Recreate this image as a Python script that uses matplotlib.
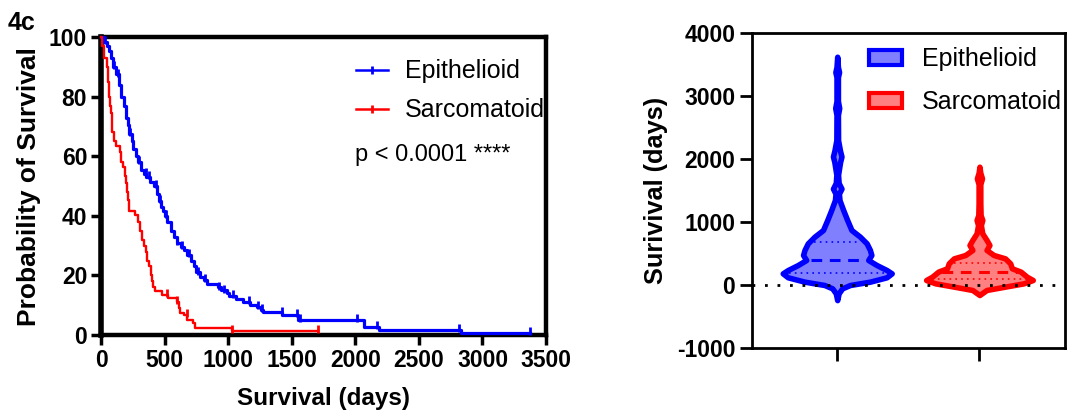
import numpy as np
import matplotlib
matplotlib.use("Agg")
import matplotlib.pyplot as plt
from matplotlib.lines import Line2D
from matplotlib.patches import Patch

plt.rcParams['font.family'] = ['Liberation Sans', 'DejaVu Sans']
plt.rcParams['axes.unicode_minus'] = False

# Kaplan-Meier steps (days, % surviving after the step)
epi_times = [0, 20, 45, 62, 80, 98, 118, 140, 160, 178, 194, 210, 222, 240, 255,
             272, 290, 315, 340, 357, 385, 413, 441, 455, 469, 485, 503, 520, 548,
             570, 596, 625, 652, 680, 708, 730, 750, 780, 806, 834, 918, 947, 989,
             1003, 1059, 1115, 1171, 1228, 1256, 1270, 1424, 1550, 2070, 2183, 2829]
epi_surv = [100, 98.5, 97, 95.5, 93, 90, 87.5, 84, 80, 77, 73, 70.5, 67.5, 65, 62.5,
            60, 58, 55.5, 54, 53, 51.5, 50, 47.5, 45, 43, 41.5, 40, 38, 35,
            33, 31, 29.5, 28.5, 27, 25, 23, 21, 19.5, 18.5, 17, 16, 15, 14,
            13, 12, 11, 10, 9.5, 8.5, 7.6, 6.7, 5, 2.6, 1.7, 0.8]
epi_end = 3376
epi_censor = [30, 100, 130, 230, 300, 350, 380, 430, 460, 510, 600, 640, 690, 760,
              819, 930, 968, 1040, 1166, 1236, 1268, 1423, 1540, 1567, 2013, 2173,
              2819, 3376]

sar_times = [0, 10, 25, 48, 55, 62, 72, 81, 90, 100, 118, 146, 160, 174, 185, 194,
             205, 216, 222, 267, 287, 306, 320, 335, 357, 365, 375, 390, 399, 410,
             427, 483, 525, 596, 610, 624, 650, 680, 722, 736, 1031]
sar_surv = [100, 97, 93, 90, 85, 80, 77, 74.5, 68, 65, 63.3, 61.6, 58, 56.5, 53.5, 51,
            48, 45.4, 41.7, 40.3, 38, 35, 32, 30, 28, 25, 23, 20, 18, 16.2,
            14.8, 13.4, 12.3, 11, 9, 7.5, 6.7, 5, 3.9, 2.5, 1.3]
sar_end = 1705
sar_censor = [520, 596, 675, 1031, 1705]

# violin outlines (days, half width)
epi_vdays = [-240, -132, -53, 0, 53, 122, 185, 238, 317, 397, 476, 556, 661, 767,
             873, 1032, 1190, 1349, 1450, 1530, 1620, 1750, 1950, 2040, 2130, 2300,
             2700, 2810, 2920, 3300, 3380, 3460, 3624]
epi_vwidth = [0, 0.01, 0.035, 0.09, 0.23, 0.347, 0.383, 0.347, 0.277, 0.218, 0.24,
              0.23, 0.207, 0.16, 0.10, 0.07, 0.042, 0.016, 0.012, 0.03, 0.01, 0.006,
              0.02, 0.03, 0.02, 0.006, 0.005, 0.014, 0.005, 0.005, 0.013, 0.005, 0]
epi_quart = [195, 397, 688]

sar_vdays = [-159, -79, -26, 26, 79, 132, 212, 265, 344, 423, 476, 556, 635, 714,
             820, 950, 1032, 1110, 1300, 1600, 1693, 1780, 1878]
sar_vwidth = [0, 0.05, 0.18, 0.31, 0.375, 0.333, 0.29, 0.228, 0.216, 0.18, 0.1,
              0.05, 0.07, 0.05, 0.02, 0.01, 0.02, 0.008, 0.006, 0.006, 0.018, 0.006, 0]
sar_quart = [90, 201, 355]

groups = ['Epithelioid', 'Sarcomatoid']
colors = ['#0000ff', '#ff0000']
fills = ['#8080ff', '#ff8080']

fig = plt.figure(figsize=(10.68, 4.16), dpi=100)
ax1 = fig.add_axes([0.0946, 0.1947, 0.4167, 0.716])
ax2 = fig.add_axes([0.704, 0.1635, 0.293, 0.757])

# --- survival curves
kms = [(epi_times, epi_surv, epi_end, epi_censor, 2.3),
       (sar_times, sar_surv, sar_end, sar_censor, 1.7)]
for (t, s, end, cens, lw), c in zip(kms, colors):
    tt = list(t) + [end]
    ss = list(s) + [s[-1]]
    ax1.step(tt, ss, where='post', color=c, lw=lw, zorder=3, clip_on=False)
    idx = np.searchsorted(t, cens, side='right') - 1
    ax1.plot(cens, np.array(s)[idx] + 0.6, ls='none', marker='|', color=c,
             ms=6, mew=2, zorder=3, clip_on=False)

ax1.set_xlim(0, 3500)
ax1.set_ylim(0, 100)
ax1.set_xticks(np.arange(0, 3501, 500))
ax1.set_yticks(np.arange(0, 101, 20))
for sp in ax1.spines.values():
    sp.set_linewidth(3.2)
ax1.spines['left'].set_linewidth(4)
ax1.tick_params(direction='out', length=7, width=2.5, labelsize=16.5, pad=3)
for lab in ax1.get_xticklabels() + ax1.get_yticklabels():
    lab.set_fontweight('bold')
ax1.set_xlabel('Survival (days)', fontsize=17.5, fontweight='bold', labelpad=11)
ax1.set_ylabel('Probability of Survival', fontsize=19, fontweight='bold', labelpad=6)

h1 = [Line2D([], [], color=c, lw=1.8, marker='|', ms=6, mew=2) for c in colors]
ax1.legend(h1, groups, loc='upper right', bbox_to_anchor=(0.998, 0.925), frameon=False,
           fontsize=18, handlelength=1.25, handletextpad=0.7, labelspacing=0.6,
           borderpad=0, borderaxespad=0, numpoints=1)
ax1.text(0.571, 0.604, 'p < 0.0001 ****', transform=ax1.transAxes, fontsize=17,
         va='center', ha='left')

# --- violins
violins = [(epi_vdays, epi_vwidth, epi_quart), (sar_vdays, sar_vwidth, sar_quart)]
for i, ((d, w, q), c, f) in enumerate(zip(violins, colors, fills)):
    d = np.array(d)
    w = np.array(w)
    ax2.fill_betweenx(d, i - w, i + w, facecolor=f, edgecolor=c, lw=4,
                      joinstyle='round', zorder=2)
    for k, qv in enumerate(q):
        hw = np.interp(qv, d, w) - 0.035
        if k == 1:
            ax2.plot([i - hw, i + hw], [qv, qv], color=c, lw=2.2, ls=(0, (3.5, 2.5)),
                     zorder=3)
        else:
            ax2.plot([i - hw, i + hw], [qv, qv], color=c, lw=1.2, ls=(0, (1, 2.5)),
                     zorder=3)

ax2.axhline(0, color='black', lw=2, ls=(0, (1, 3.5)), zorder=4)
ax2.set_xlim(-0.6, 1.6)
ax2.set_ylim(-1000, 4000)
ax2.set_yticks(np.arange(-1000, 4001, 1000))
ax2.set_xticks([0, 1])
ax2.set_xticklabels(['', ''])
for sp in ax2.spines.values():
    sp.set_linewidth(2)
ax2.tick_params(direction='out', length=9, width=2, labelsize=16.5, pad=3)
for lab in ax2.get_yticklabels():
    lab.set_fontweight('bold')
ax2.set_ylabel('Surivival (days)', fontsize=18.3, fontweight='bold', labelpad=6)

h2 = [Patch(facecolor=f, edgecolor=c, lw=3) for c, f in zip(colors, fills)]
ax2.legend(h2, groups, loc='upper right', bbox_to_anchor=(0.99, 0.955), frameon=False,
           fontsize=18, handlelength=1.3, handleheight=0.55, handletextpad=0.8,
           labelspacing=0.75, borderpad=0, borderaxespad=0)

fig.text(0.007, 0.928, '4c', fontsize=18, fontweight='bold')

fig.savefig('out.png', dpi=100)
